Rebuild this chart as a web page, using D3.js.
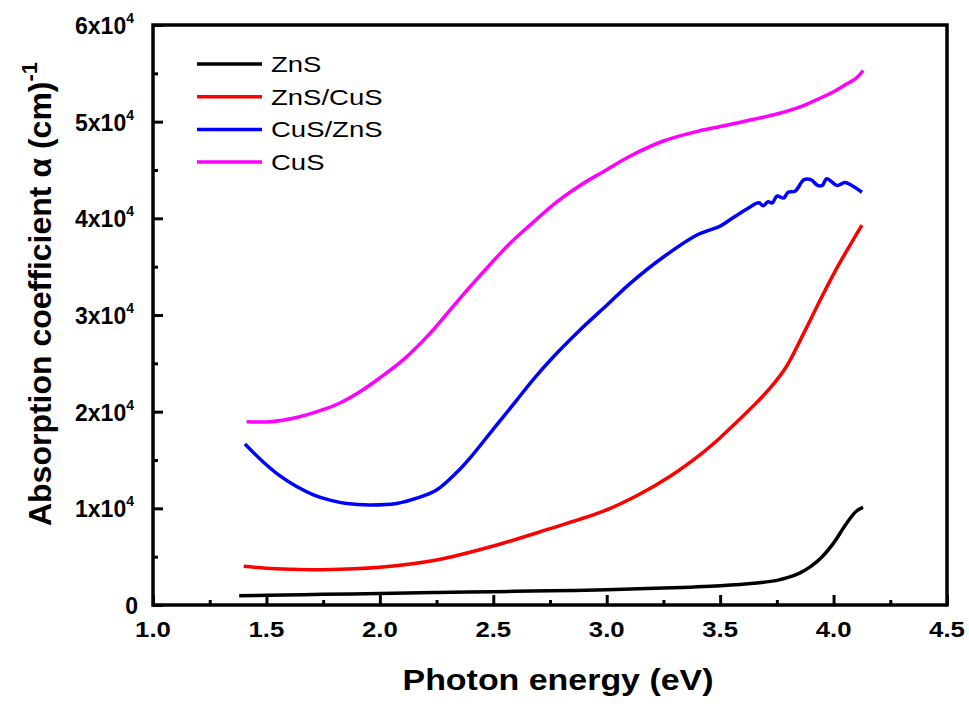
<!DOCTYPE html>
<html><head><meta charset="utf-8">
<script src="https://cdn.jsdelivr.net/npm/d3@7"></script>
<style>body{margin:0;background:#fff}svg{display:block}text{font-family:"Liberation Sans",Arial,sans-serif}</style>
</head><body><svg id="c" width="969" height="706"></svg>
<script>
const seriesNames = ["ZnS", "ZnS/CuS", "CuS/ZnS", "CuS"];
const seriesColors = ["#000000", "#ff0000", "#0000ff", "#ff00ff"];

const znsX = [1.38,1.5,1.75,2.0,2.25,2.5,2.75,3.0,3.25,3.5,3.65,3.75,3.8,3.85,3.9,3.95,4.0,4.05,4.1,4.13];
const znsY = [950,1000,1100,1200,1300,1380,1470,1570,1750,2000,2250,2550,2850,3300,4000,5000,6400,8200,9700,10100];

const znsCusX = [1.4,1.5,1.6,1.75,2.0,2.25,2.5,2.75,2.985,3.132,3.278,3.425,3.5,3.572,3.646,3.719,3.793,3.866,3.94,4.013,4.125];
const znsCusY = [4000,3800,3700,3650,3900,4650,6100,7900,9700,11300,13300,15800,17300,18900,20600,22400,24700,28000,31500,34800,39300];

const cusZnsX = [1.405,1.486,1.56,1.633,1.707,1.78,1.854,1.956,2.074,2.162,2.25,2.338,2.397,2.5,2.6,2.675,2.75,2.88,3.0,3.1,3.25,3.4,3.5,3.54,3.62,3.67,3.69,3.71,3.73,3.75,3.78,3.80,3.83,3.87,3.90,3.93,3.95,3.97,4.015,4.05,4.08,4.125];
const cusZnsY = [16650,14800,13350,12250,11400,10850,10500,10350,10500,11050,11900,13700,15200,18200,21100,23300,25300,28400,31000,33200,36000,38300,39200,39800,41000,41600,41300,41700,41600,42300,42100,42700,42800,44000,44000,43400,43400,44100,43400,43700,43400,42700];

const cusX = [1.413,1.516,1.633,1.736,1.824,1.912,2.0,2.1,2.221,2.309,2.397,2.485,2.573,2.662,2.78,2.882,2.983,3.10,3.25,3.4,3.5,3.6,3.75,3.85,3.9,4.0,4.05,4.1,4.13];
const cusY = [18960,18960,19400,20100,20900,22060,23500,25300,28100,30500,32900,35200,37400,39300,41700,43400,44800,46400,48000,49000,49500,50000,50800,51500,52000,53100,53800,54500,55300];

const xTicks = [1.0,1.5,2.0,2.5,3.0,3.5,4.0,4.5];
const yTickMant = ["0","1","2","3","4","5","6"];
const yTicks = [0,10000,20000,30000,40000,50000,60000];

const svg = d3.select("#c");
const L=153, R=947, T=25, B=605;
const x = d3.scaleLinear().domain([1.0,4.5]).range([L,R]);
const y = d3.scaleLinear().domain([0,60000]).range([B,T]);

const data = [[znsX,znsY],[znsCusX,znsCusY],[cusZnsX,cusZnsY],[cusX,cusY]];
const line = d3.line().x(d=>x(d[0])).y(d=>y(d[1])).curve(d3.curveCatmullRom.alpha(0.5));

data.forEach((s,i)=>{
  const pts = s[0].map((v,j)=>[v,s[1][j]]);
  svg.append("path").attr("d",line(pts)).attr("fill","none")
    .attr("stroke",seriesColors[i]).attr("stroke-width",3.5).attr("stroke-linejoin","round");
});

// frame
svg.append("rect").attr("x",L).attr("y",T).attr("width",R-L).attr("height",B-T)
  .attr("fill","none").attr("stroke","#000").attr("stroke-width",3.5);

function stretched(px,py,sx,anchor){
  return svg.append("g").attr("transform",`translate(${px},${py}) scale(${sx},1)`)
    .append("text").attr("x",0).attr("y",0).attr("text-anchor",anchor);
}

// x axis ticks (inward)
const xAxis = d3.axisBottom(x).tickValues(xTicks).tickSizeInner(-10).tickSizeOuter(0).tickFormat("");
const gx = svg.append("g").attr("transform",`translate(0,${B})`).call(xAxis);
gx.select(".domain").remove();
gx.selectAll("line").attr("stroke","#000").attr("stroke-width",3);
const xMinor = d3.axisBottom(x).tickValues(d3.range(1.25,4.5,0.5)).tickSizeInner(-5).tickSizeOuter(0).tickFormat("");
const gxm = svg.append("g").attr("transform",`translate(0,${B})`).call(xMinor);
gxm.select(".domain").remove();
gxm.selectAll("line").attr("stroke","#000").attr("stroke-width",3);
xTicks.forEach(t=>{
  stretched(x(t),637,1.17,"middle").attr("font-size",22).attr("font-weight","bold").text(d3.format(".1f")(t));
});

// y axis ticks (inward)
const yAxis = d3.axisLeft(y).tickValues(yTicks).tickSizeInner(-10).tickSizeOuter(0).tickFormat("");
const gy = svg.append("g").attr("transform",`translate(${L},0)`).call(yAxis);
gy.select(".domain").remove();
gy.selectAll("line").attr("stroke","#000").attr("stroke-width",3);
const yMinor = d3.axisLeft(y).tickValues(d3.range(5000,60000,10000)).tickSizeInner(-5).tickSizeOuter(0).tickFormat("");
const gym = svg.append("g").attr("transform",`translate(${L},0)`).call(yMinor);
gym.select(".domain").remove();
gym.selectAll("line").attr("stroke","#000").attr("stroke-width",3);
yTicks.forEach((t,i)=>{
  const tx = svg.append("text").attr("x",t===0?138:134).attr("y",y(t)+9).attr("text-anchor","end")
    .attr("font-size",23).attr("font-weight","bold");
  if(t===0){ tx.text("0"); }
  else {
    tx.append("tspan").text(yTickMant[i]+"x10");
    tx.append("tspan").attr("font-size",14).attr("dy",-11).text("4");
  }
});

// axis titles
stretched(558,690,1.17,"middle").attr("font-size",29).attr("font-weight","bold").text("Photon energy (eV)");
const yt = svg.append("text").attr("transform","translate(51,294) rotate(-90)")
  .attr("text-anchor","middle").attr("font-size",32).attr("font-weight","bold");
yt.append("tspan").text("Absorption coefficient α (cm)");
yt.append("tspan").attr("font-size",22).attr("dy",-14).text("-1");

// legend
seriesNames.forEach((n,i)=>{
  const ly = 64 + i*32.7;
  svg.append("line").attr("x1",197).attr("x2",262).attr("y1",ly).attr("y2",ly)
    .attr("stroke",seriesColors[i]).attr("stroke-width",3.5);
  stretched(271,ly+8,1.25,"start").attr("font-size",22).text(n);
});
</script></body></html>
